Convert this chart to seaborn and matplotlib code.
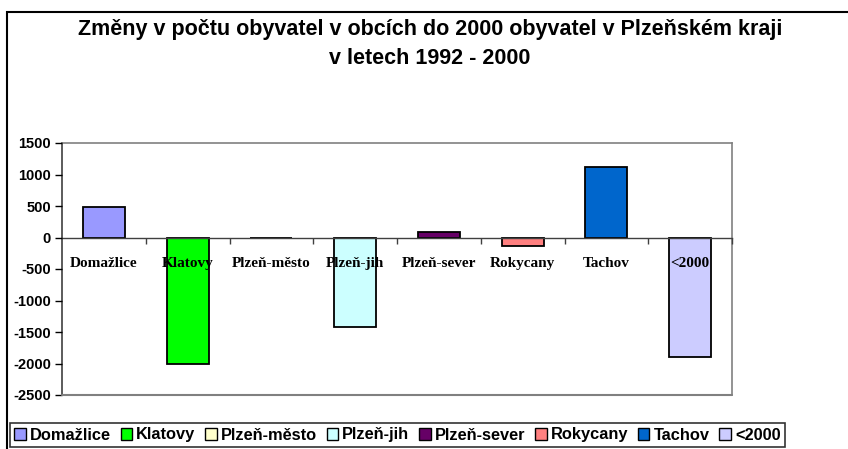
import matplotlib
matplotlib.use("Agg")
import matplotlib.pyplot as plt
import seaborn as sns
import pandas as pd
import numpy as np
from matplotlib.patches import Rectangle, Patch

categories = ["Domažlice", "Klatovy", "Plzeň-město", "Plzeň-jih", "Plzeň-sever", "Rokycany", "Tachov", "<2000"]
values = [480, -2010, 0, -1420, 80, -140, 1120, -1900]
colors = ["#9999FF", "#00FF00", "#FFFFCC", "#CCFFFF", "#660066", "#FF8080", "#0066CC", "#CCCCFF"]
yticks = [1500, 1000, 500, 0, -500, -1000, -1500, -2000, -2500]
title = "Změny v počtu obyvatel v obcích do 2000 obyvatel v Plzeňském kraji\nv letech 1992 - 2000"

sns.set_style("white")
plt.rcParams['font.family'] = ['Liberation Sans', 'DejaVu Sans']
plt.rcParams['text.color'] = 'black'
plt.rcParams['xtick.color'] = 'black'
plt.rcParams['ytick.color'] = 'black'

df = pd.DataFrame({"cat": categories, "val": values})

fig = plt.figure(figsize=(8.48, 4.49), dpi=100)
ax = fig.add_axes([62/848, 1-395/449, (732-62)/848, (395-143)/449])

sns.barplot(data=df, x="cat", y="val", hue="cat", palette=colors, dodge=False, saturation=1,
            width=0.5, edgecolor="black", linewidth=1.3, legend=False, ax=ax)
ax.set_axisbelow(False)

ax.set_ylim(-2500, 1500)
ax.set_xlim(-0.5, len(categories) - 0.5)
ax.set_yticks(yticks)
ax.set_yticklabels([str(t) for t in yticks], fontsize=10.5, fontweight="bold")
ax.tick_params(axis="y", direction="out", length=5, width=1, color="black", left=True, pad=3,
               labelcolor="black")
ax.set_xlabel("")
ax.set_ylabel("")

# frame
for s in ["top", "right"]:
    ax.spines[s].set_color("#808080")
    ax.spines[s].set_linewidth(1.2)
ax.spines["left"].set_color("#404040")
ax.spines["left"].set_linewidth(1.2)
ax.spines["bottom"].set_position(("data", 0))
ax.spines["bottom"].set_color("#404040")
ax.spines["bottom"].set_linewidth(1.0)
ax.axhline(-2500, color="#808080", lw=1.5, clip_on=False, zorder=5)

# ticks between categories, labels at centers
n = len(categories)
ax.set_xticks(np.arange(n) + 0.5)
ax.set_xticklabels([""] * n)
ax.tick_params(axis="x", which="major", direction="out", length=4, width=1, color="#404040", bottom=True)
ax.set_xticks(np.arange(n), minor=True)
ax.set_xticklabels(categories, minor=True, fontsize=11, fontweight="bold", family="Liberation Serif")
ax.tick_params(axis="x", which="minor", length=0, pad=14, labelcolor="black")

fig.text(0.507, 1 - 44/449, title, ha="center", va="center", fontsize=15.5,
         fontweight="bold", linespacing=1.45, color="black")

# outer border
fig.patches.append(Rectangle((7/848, -0.1), 1.2, 1 - 12/449 + 0.1, transform=fig.transFigure,
                             fill=False, edgecolor="black", lw=1.5))

handles = [Patch(facecolor=c, edgecolor="black", lw=1) for c in colors]
leg = fig.legend(handles, categories, loc="center left", bbox_to_anchor=(10/848, 1 - 435/449),
                 ncol=n, frameon=True, fancybox=False, edgecolor="black", fontsize=11.8,
                 handlelength=0.7, handleheight=0.7, handletextpad=0.25, columnspacing=0.6,
                 borderpad=0.25, borderaxespad=0)
leg.get_frame().set_linewidth(1.2)
for t in leg.get_texts():
    t.set_fontweight("bold")
    t.set_color("black")

fig.savefig("out.png", dpi=100)
